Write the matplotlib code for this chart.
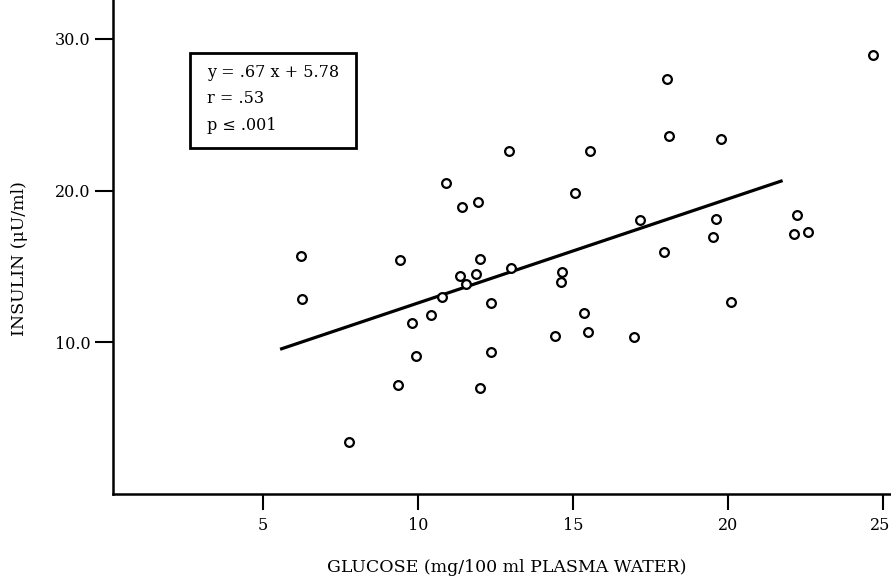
import matplotlib.pyplot as plt
from matplotlib.patches import Rectangle
from matplotlib.transforms import ScaledTranslation

# Glucose vs insulin values
glucose = [6.24, 6.27, 7.76, 9.42, 9.36, 9.79, 9.93, 10.41, 10.78, 10.89,
           11.36, 11.43, 11.54, 11.87, 11.94, 12.01, 11.99, 12.35, 12.35, 12.95,
           13.00, 14.41, 14.64, 14.61, 15.05, 15.35, 15.48, 15.55, 16.98, 17.15,
           17.95, 18.04, 18.10, 19.53, 19.62, 19.78, 20.09, 22.22, 22.12, 22.57,
           24.67]
insulin = [15.69, 12.87, 3.46, 15.45, 7.19, 11.25, 9.11, 11.77, 12.99, 20.53,
           14.38, 18.95, 13.87, 14.48, 19.22, 15.48, 6.99, 12.57, 9.36, 22.64,
           14.90, 10.40, 14.65, 13.97, 19.87, 11.93, 10.66, 22.64, 10.38, 18.06,
           15.98, 27.38, 23.57, 16.97, 18.11, 23.38, 12.68, 18.36, 17.17, 17.30,
           28.92]

# regression line as drawn (y = .67 x + 5.78)
fit_x = [5.55, 21.76]
fit_y = [9.54, 20.66]

x_ticks = [5, 10, 15, 20, 25]
x_tick_labels = ['5', '10', '15', '20', '25']
y_ticks = [10, 20, 30]
y_tick_labels = ['10.0', '20.0', '30.0']

stats_lines = ['y = .67 x + 5.78', 'r = .53', 'p \u2264 .001']

plt.rcParams['font.family'] = ['DejaVu Serif']

W, H = 891, 577
fig = plt.figure(figsize=(W / 100, H / 100), dpi=100)

# axes geometry in pixels (the scan crops the top and right frame)
x0, x1 = 0.15, 26.0
y0, y1 = 0.0, 34.0
px_x, px_y = 31.0, 15.17
left_px, bottom_px = 112.7, 494.0
ax_w = (x1 - x0) * px_x
ax_h = (y1 - y0) * px_y
ax = fig.add_axes([left_px / W, (H - bottom_px) / H, ax_w / W, ax_h / H])

ax.plot(fit_x, fit_y, color='black', linewidth=2.3, solid_capstyle='butt', zorder=2)
ax.plot(glucose, insulin, linestyle='none', marker='o', markersize=6.3,
        markerfacecolor='white', markeredgecolor='black', markeredgewidth=1.6, zorder=3)

ax.set_xlim(x0, x1)
ax.set_ylim(y0, y1)
ax.set_xticks(x_ticks)
ax.set_xticklabels(x_tick_labels)
ax.set_yticks(y_ticks)
ax.set_yticklabels(y_tick_labels)

ax.spines['top'].set_visible(False)
ax.spines['right'].set_visible(False)
ax.spines['left'].set_linewidth(1.8)
ax.spines['bottom'].set_linewidth(1.8)
ax.tick_params(axis='x', direction='out', length=11.5, width=1.5, pad=5, labelsize=11.5)
ax.tick_params(axis='y', direction='out', length=13, width=1.5, pad=3, labelsize=11.5)

# the last x label sits right at the page edge; nudge it in a little
last = ax.get_xticklabels()[-1]
last.set_transform(last.get_transform() + ScaledTranslation(-2 / 72, 0, fig.dpi_scale_trans))


def to_axes(px, py):
    return (px - left_px) / ax_w, (bottom_px - py) / ax_h


# statistics box
bx, by = to_axes(190, 148.3)
ax.add_patch(Rectangle((bx, by), 165.7 / ax_w, 95 / ax_h, transform=ax.transAxes,
                       fill=False, edgecolor='black', linewidth=2.0, zorder=4))
for line, py in zip(stats_lines, [73, 99, 126]):
    tx, ty = to_axes(207, py)
    ax.text(tx, ty, line, transform=ax.transAxes, ha='left', va='center',
            fontsize=11.5, zorder=5)

# axis titles
fig.text(507 / W, 1 - 567 / H, 'GLUCOSE (mg/100 ml PLASMA WATER)',
         ha='center', va='center', fontsize=12.5)
fig.text(20 / W, 1 - 259 / H, 'INSULIN (\u03bcU/ml)', rotation=90,
         ha='center', va='center', fontsize=12.5)

plt.savefig('out.png', dpi=100)
